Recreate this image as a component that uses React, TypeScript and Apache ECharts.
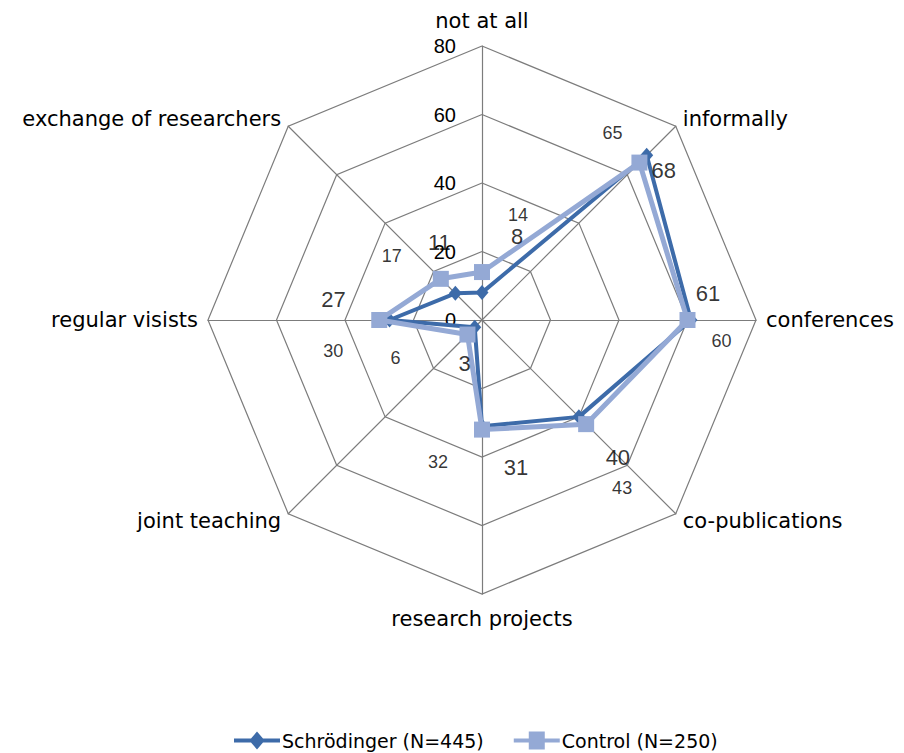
import React, { useEffect, useRef } from 'react';
import * as echarts from 'echarts';

// ---- data (clockwise from the top) ----
const categories = [
  'not at all',
  'informally',
  'conferences',
  'co-publications',
  'research projects',
  'joint teaching',
  'regular visists',
  'exchange of researchers',
];
const schroedingerValues = [8, 68, 61, 40, 31, 3, 27, 11];
const controlValues = [14, 65, 60, 43, 32, 6, 30, 17];
const seriesNames = ['Schrödinger (N=445)', 'Control (N=250)'];
const axisMin = 0;
const axisMax = 80;
const axisInterval = 20;

// ---- styles ----
const colorS = '#3D6BA9';
const colorC = '#94A9D5';
const gridColor = '#7c7c7c';
const labelOffsetsS = [[35, -56], [17, 15], [17, -27], [39, 41], [34, 41], [-10, 36], [-56, -21], [-16, -51]];
const labelOffsetsC = [[36, -57], [-27, -30], [34, 21], [36, 64], [-44, 32], [-72, 23], [-46, 31], [-49, -23]];

const diamondIcon = 'path://M0,7L17,7L23,0L29,7L46,7L46,11L29,11L23,18L17,11L0,11Z';
const squareIcon = 'path://M0,7L15,7L15,0L31,0L31,7L46,7L46,11L31,11L31,18L15,18L15,11L0,11Z';

export default function App() {
  const ref = useRef<HTMLDivElement>(null);
  useEffect(() => {
    if (!ref.current) return;
    const chart = echarts.init(ref.current, null, { renderer: 'svg' });
    const n = categories.length;
    const step = 360 / n;
    // radar places indicators counter-clockwise; reorder so the layout runs clockwise
    const order = [0, ...Array.from({ length: n - 1 }, (_, k) => n - 1 - k)];
    const center = [482, 320];
    const radius = 274;

    const labelSeries = (vals: number[], offsets: number[][], size: number) => ({
      type: 'scatter',
      coordinateSystem: 'polar',
      silent: true,
      z: 10,
      symbolSize: 1,
      itemStyle: { color: 'rgba(0,0,0,0)' },
      data: vals.map((v, i) => ({
        value: [v, i * step],
        label: { offset: offsets[i] },
      })),
      label: {
        show: true,
        position: 'inside',
        formatter: (p: any) => String(p.value[0]),
        color: '#000',
        textBorderWidth: 0,
        fontSize: size,
        fontFamily: 'Liberation Sans',
      },
    });

    chart.setOption({
      animation: false,
      backgroundColor: '#fff',
      legend: {
        left: 229,
        top: 726,
        itemWidth: 46,
        itemHeight: 18,
        itemGap: 30,
        textStyle: { color: '#000', fontSize: 19, fontFamily: 'DejaVu Sans', padding: [0, 0, 0, -3] },
        data: [
          { name: seriesNames[0], icon: diamondIcon, itemStyle: { color: colorS } },
          { name: seriesNames[1], icon: squareIcon, itemStyle: { color: colorC } },
        ],
      },
      radar: {
        center,
        radius,
        startAngle: 90,
        splitNumber: 4,
        shape: 'polygon',
        nameGap: 10,
        indicator: order.map((i) => ({ name: categories[i], min: axisMin, max: axisMax })),
        axisName: { color: '#000', fontSize: 21, fontFamily: 'DejaVu Sans', lineHeight: 30 },
        axisLine: { lineStyle: { color: gridColor, width: 1.2 } },
        splitLine: { lineStyle: { color: gridColor, width: 1.2 } },
        splitArea: { show: false },
        axisTick: { show: false },
        axisLabel: { show: false },
      },
      polar: { center, radius },
      angleAxis: { type: 'value', min: 0, max: 360, startAngle: 90, clockwise: true, show: false },
      radiusAxis: {
        type: 'value',
        min: axisMin,
        max: axisMax,
        interval: axisInterval,
        axisLine: { show: false },
        axisTick: { show: false },
        splitLine: { show: false },
        axisLabel: {
          color: '#000',
          fontSize: 20,
          fontFamily: 'Liberation Sans',
          margin: 26,
          padding: [7, 0, 0, 0],
        },
      },
      series: [
        {
          type: 'radar',
          name: seriesNames[0],
          z: 3,
          symbol: 'diamond',
          symbolSize: [13, 15],
          lineStyle: { color: colorS, width: 4 },
          itemStyle: { color: colorS },
          data: [{ name: seriesNames[0], value: order.map((i) => schroedingerValues[i]) }],
        },
        {
          type: 'radar',
          name: seriesNames[1],
          z: 4,
          symbol: 'rect',
          symbolSize: 16,
          lineStyle: { color: colorC, width: 5 },
          itemStyle: { color: colorC },
          data: [{ name: seriesNames[1], value: order.map((i) => controlValues[i]) }],
        },
        labelSeries(schroedingerValues, labelOffsetsS, 22),
        labelSeries(controlValues, labelOffsetsC, 18),
      ],
    });
    return () => chart.dispose();
  }, []);
  return (
    <div
      ref={ref}
      style={{ position: 'absolute', left: 0, top: 0, width: 904, height: 753, background: '#fff' }}
    />
  );
}
